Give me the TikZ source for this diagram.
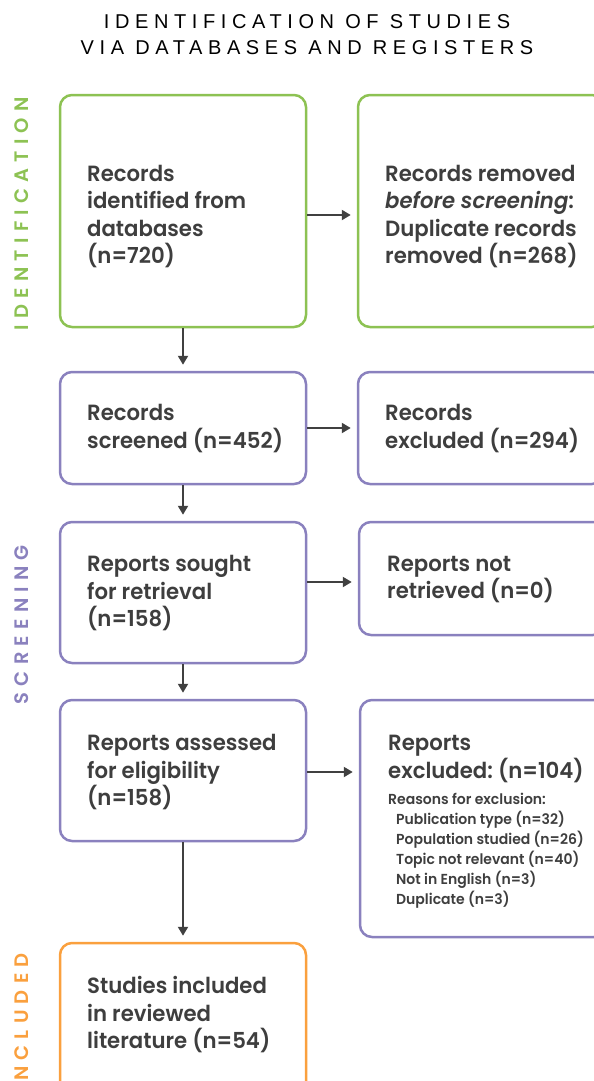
\documentclass[tikz,border=0pt]{standalone}
\usepackage{fontspec}
\usetikzlibrary{arrows.meta}
\setmainfont{Poppins}[BoldFont={Poppins SemiBold}, BoldItalicFont={Poppins SemiBold Italic}, FakeStretch=0.965]
\newfontfamily\titlefont{Liberation Sans}[LetterSpace=28]
\newfontfamily\sidefont{Poppins SemiBold}[LetterSpace=32]
\definecolor{pgreen}{RGB}{141,194,83}
\definecolor{ppurple}{RGB}{138,129,190}
\definecolor{porange}{RGB}{250,160,62}
\definecolor{txtc}{RGB}{62,62,62}
\definecolor{arrc}{RGB}{64,64,64}
\frenchspacing
\begin{document}
\begin{tikzpicture}[x=1pt,y=-1pt,
  box/.style={draw, rounded corners=12pt, line width=2.5pt, minimum width=246pt, inner sep=0pt},
  txt/.style={anchor=west, align=left, inner sep=0pt, yshift=-2.5pt, text=txtc, font=\frenchspacing\bfseries\fontsize{22}{27.5}\selectfont},
  listtxt/.style={anchor=west, align=left, inner sep=0pt, yshift=-2pt, text=txtc, font=\frenchspacing\bfseries\fontsize{14.5}{20}\selectfont},
  arr/.style={draw=arrc, line width=2pt, -{Triangle[width=10pt,length=9pt]}, shorten >=6pt},
  side/.style={rotate=90, anchor=east, inner sep=0pt, font=\sidefont\fontsize{19.5}{19.5}\selectfont}]
\useasboundingbox (0,0) rectangle (594,1081);
\clip (0,0) rectangle (594,1081);
\node[font=\titlefont\fontsize{20}{26}\selectfont, align=center, text=black] (title) at (307,35) {IDENTIFICATION OF STUDIES\\VIA DATABASES AND REGISTERS};
\node[side, text=pgreen] (s1) at (22,97) {IDENTIFICATION};
\node[side, text=ppurple] (s2) at (22,545) {SCREENING};
\node[side, text=porange] (s3) at (22,953) {INCLUDED};
\node[box, draw=pgreen, minimum height=232pt] (b1) at (183,211) {};
\node[box, draw=pgreen, minimum height=232pt] (b2) at (481,211) {};
\node[box, draw=ppurple, minimum height=112pt] (b3) at (183,428) {};
\node[box, draw=ppurple, minimum height=112pt] (b4) at (481,428) {};
\node[box, draw=ppurple, minimum height=141pt] (b5) at (183,592.5) {};
\node[box, draw=ppurple, minimum height=113pt] (b6) at (482,578.5) {};
\node[box, draw=ppurple, minimum height=141pt] (b7) at (183,770.5) {};
\node[box, draw=ppurple, minimum height=237pt] (b8) at (483,818.5) {};
\node[box, draw=porange, minimum height=232pt] (b9) at (183,1059) {};
\node[txt] (t1) at (87,214) {Records\\identified from\\databases\\(n=720)};
\node[txt] (t2) at (385,214) {Records removed\\\textit{before screening}:\\Duplicate records\\removed (n=268)};
\node[txt] (t3) at (87,426) {Records\\screened (n=452)};
\node[txt] (t4) at (385,426) {Records\\excluded (n=294)};
\node[txt] (t5) at (87,591) {Reports sought\\for retrieval\\(n=158)};
\node[txt] (t6) at (387,577) {Reports not\\retrieved (n=0)};
\node[txt] (t7) at (87,770) {Reports assessed\\for eligibility\\(n=158)};
\node[txt] (t8) at (388,756.5) {Reports\\excluded: (n=104)};
\node[listtxt] (t8b) at (388,849) {Reasons for exclusion:\\\hspace{8pt}Publication type (n=32)\\\hspace{8pt}Population studied (n=26)\\\hspace{8pt}Topic not relevant (n=40)\\\hspace{8pt}Not in English (n=3)\\\hspace{8pt}Duplicate (n=3)};
\node[txt] (t9) at (87,1012.5) {Studies included\\in reviewed\\literature (n=54)};
\draw[arr] (b1) -- (b3);
\draw[arr] (b3) -- (b5);
\draw[arr] (b5) -- (b7);
\draw[arr] (b7) -- (b9);
\draw[arr] ([yshift=-4pt]b1.east) -- ([yshift=-4pt]b1.east -| b2.west);
\draw[arr] (b3.east) -- (b3.east -| b4.west);
\draw[arr] ([yshift=-3.5pt]b6.west -| b5.east) -- ([yshift=-3.5pt]b6.west);
\draw[arr] ([yshift=-1.5pt]b7.east) -- ([yshift=-1.5pt]b7.east -| b8.west);
\end{tikzpicture}
\end{document}
